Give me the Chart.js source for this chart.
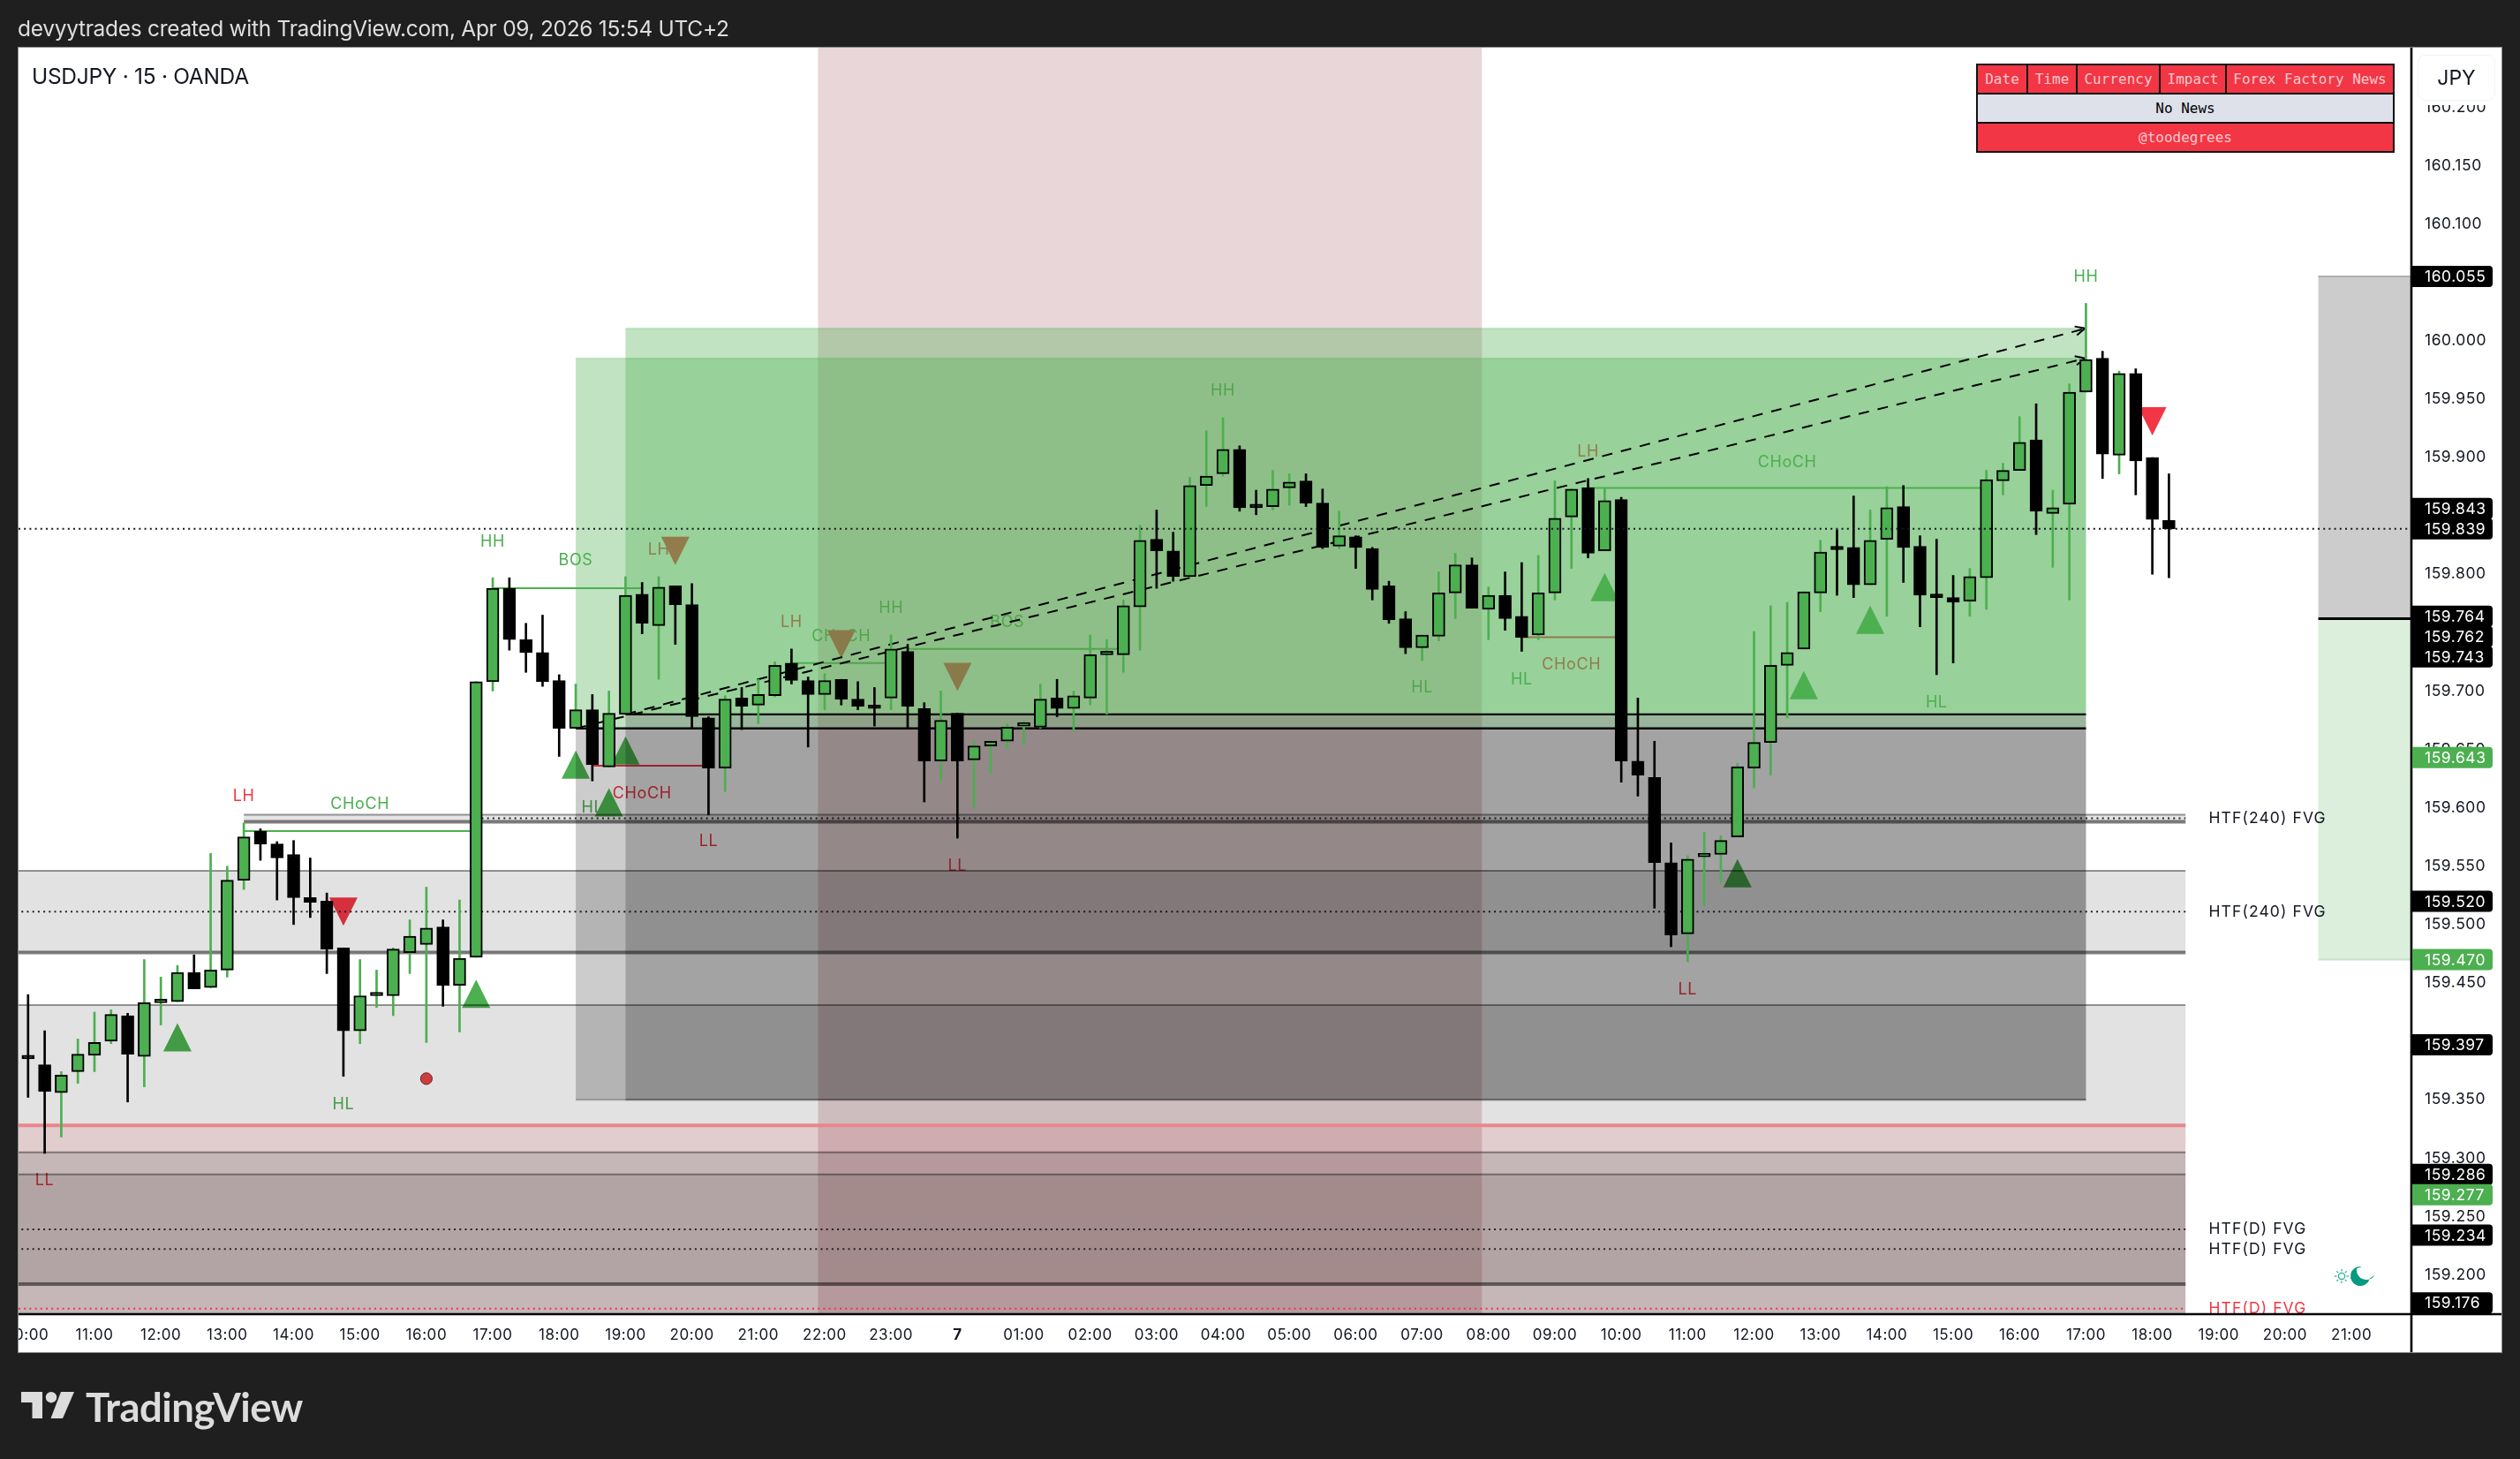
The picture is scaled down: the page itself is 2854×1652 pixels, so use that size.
<!DOCTYPE html>
<html>
<head>
<meta charset="utf-8">
<title>USDJPY 15 OANDA</title>
<script src="https://cdn.jsdelivr.net/npm/chart.js@4"></script>
<style>
html,body{margin:0;padding:0;background:#1f1f1f;width:2854px;height:1652px;overflow:hidden;font-family:Inter,Roboto,sans-serif}
canvas{position:absolute;left:0;top:0}
.abs{position:absolute;white-space:nowrap}
#head{left:20px;top:17px;font-size:24.5px;line-height:30px;color:#dedede;letter-spacing:-.3px}
#symbol{left:36px;top:71px;font-size:24.5px;line-height:30px;color:#131722;letter-spacing:-.3px}
#cur{left:2738px;top:62px;width:86px;height:50px;line-height:50px;background:#fff;border:1px solid #f0f3fa;border-radius:9px;box-shadow:0 5px 0 #fff;text-align:center;font-size:23px;color:#131722}
#news{left:2238px;top:72px;width:474px;height:101px;border-collapse:collapse;table-layout:fixed;font:16px/1 "DejaVu Sans Mono",monospace;text-align:center}
#news td{border:2px solid #111;padding:0;height:31px;background:#f23645;color:#fcc8cd}
#news td.plain{background:#dee1ea;color:#000}
#brand{left:97px;top:1565px;font:700 45.5px/56px Lato,sans-serif;color:#dcdcdc;letter-spacing:-.5px}
#logo{left:24px;top:1576px}
</style>
</head>
<body>
<canvas id="chart" width="2854" height="1652"></canvas>
<div class="abs" id="head">devyytrades created with TradingView.com, Apr 09, 2026 15:54 UTC+2</div>
<div class="abs" id="symbol">USDJPY · 15 · OANDA</div>
<div class="abs" id="cur">JPY</div>
<table class="abs" id="news">
<colgroup><col style="width:57px"><col style="width:56px"><col style="width:94px"><col style="width:75px"><col></colgroup>
<tr><td>Date</td><td>Time</td><td>Currency</td><td>Impact</td><td>Forex Factory News</td></tr>
<tr><td class="plain" colspan="5">No News</td></tr>
<tr><td colspan="5">@toodegrees</td></tr>
</table>
<svg class="abs" id="logo" width="62" height="31" viewBox="0 0 62 31" fill="#dcdcdc">
<path d="M0 0H24V30H12.5V12H0Z"/><circle cx="34" cy="6.2" r="6.2"/><path d="M45 0H60L47 30H33.5Z"/>
</svg>
<div class="abs" id="brand">TradingView</div>
<script>
// candles, one entry per 15 minute bar, bar 0 is 10:00
const barOpen=[159.386,159.380,159.356,159.374,159.388,159.400,159.422,159.387,159.433,159.434,
159.459,159.446,159.461,159.538,159.580,159.569,159.560,159.523,159.520,159.480,
159.409,159.439,159.439,159.476,159.483,159.498,159.448,159.472,159.708,159.788,
159.744,159.733,159.709,159.668,159.684,159.635,159.680,159.783,159.756,159.790,
159.774,159.677,159.634,159.694,159.688,159.696,159.724,159.709,159.697,159.710,
159.693,159.688,159.694,159.734,159.685,159.640,159.681,159.641,159.653,159.657,
159.670,159.669,159.694,159.685,159.694,159.731,159.731,159.772,159.830,159.820,
159.798,159.876,159.886,159.907,159.858,159.858,159.874,159.880,159.861,159.824,
159.832,159.822,159.790,159.762,159.737,159.747,159.784,159.808,159.770,159.782,
159.764,159.748,159.784,159.849,159.874,159.820,159.864,159.640,159.626,159.553,
159.492,159.558,159.560,159.575,159.634,159.656,159.722,159.736,159.784,159.823,
159.823,159.791,159.830,159.858,159.824,159.783,159.780,159.777,159.797,159.880,
159.889,159.915,159.852,159.860,159.956,159.985,159.902,159.972,159.900,159.846];
const barHigh=[159.440,159.409,159.374,159.402,159.425,159.427,159.424,159.470,159.455,159.465,
159.474,159.561,159.550,159.587,159.582,159.571,159.572,159.557,159.527,159.480,
159.470,159.461,159.480,159.504,159.532,159.504,159.521,159.708,159.797,159.797,
159.758,159.765,159.714,159.706,159.697,159.700,159.798,159.793,159.798,159.790,
159.792,159.678,159.696,159.703,159.710,159.725,159.736,159.712,159.715,159.710,
159.708,159.703,159.748,159.740,159.690,159.700,159.681,159.657,159.657,159.672,
159.674,159.706,159.710,159.700,159.748,159.744,159.778,159.842,159.855,159.836,
159.883,159.923,159.934,159.910,159.872,159.889,159.886,159.886,159.873,159.854,
159.833,159.823,159.794,159.768,159.748,159.802,159.818,159.814,159.789,159.802,
159.810,159.816,159.880,159.873,159.882,159.874,159.866,159.694,159.657,159.570,
159.559,159.579,159.576,159.638,159.751,159.773,159.776,159.785,159.829,159.838,
159.867,159.855,159.875,159.876,159.833,159.830,159.799,159.805,159.889,159.895,
159.935,159.946,159.872,159.963,160.032,159.991,159.974,159.976,159.900,159.886];
const barLow=[159.352,159.304,159.318,159.364,159.374,159.398,159.348,159.361,159.414,159.434,
159.445,159.446,159.455,159.530,159.555,159.521,159.500,159.506,159.458,159.370,
159.398,159.429,159.422,159.458,159.399,159.430,159.408,159.472,159.700,159.735,
159.716,159.704,159.644,159.668,159.623,159.635,159.680,159.749,159.710,159.740,
159.668,159.594,159.614,159.667,159.672,159.695,159.706,159.652,159.684,159.688,
159.684,159.670,159.684,159.668,159.605,159.624,159.574,159.600,159.629,159.651,
159.654,159.668,159.678,159.666,159.688,159.680,159.716,159.735,159.788,159.794,
159.798,159.858,159.884,159.854,159.851,159.855,159.859,159.858,159.822,159.822,
159.805,159.778,159.758,159.732,159.726,159.743,159.762,159.771,159.744,159.752,
159.734,159.744,159.778,159.805,159.814,159.820,159.622,159.610,159.514,159.481,
159.468,159.516,159.536,159.575,159.617,159.628,159.677,159.736,159.768,159.782,
159.780,159.791,159.764,159.793,159.755,159.714,159.724,159.764,159.770,159.868,
159.889,159.834,159.806,159.778,159.956,159.882,159.886,159.868,159.800,159.797];
const barClose=[159.385,159.357,159.371,159.389,159.399,159.423,159.389,159.433,159.435,159.459,
159.445,159.461,159.538,159.575,159.569,159.557,159.523,159.519,159.479,159.409,
159.439,159.440,159.479,159.490,159.497,159.448,159.471,159.708,159.788,159.744,
159.733,159.708,159.668,159.684,159.637,159.681,159.782,159.758,159.789,159.774,
159.678,159.634,159.693,159.687,159.697,159.722,159.709,159.697,159.709,159.693,
159.687,159.685,159.736,159.687,159.640,159.675,159.640,159.653,159.657,159.669,
159.672,159.693,159.685,159.696,159.731,159.733,159.773,159.829,159.820,159.798,
159.876,159.884,159.907,159.857,159.857,159.873,159.879,159.861,159.823,159.833,
159.823,159.787,159.761,159.737,159.748,159.784,159.808,159.771,159.782,159.762,
159.746,159.784,159.848,159.873,159.818,159.863,159.640,159.628,159.553,159.491,
159.556,159.559,159.572,159.635,159.656,159.722,159.733,159.785,159.819,159.821,
159.791,159.829,159.857,159.823,159.782,159.780,159.776,159.798,159.881,159.889,
159.913,159.854,159.857,159.956,159.984,159.903,159.972,159.897,159.847,159.839];

// axis ticks
const timeLabels=["10:00","11:00","12:00","13:00","14:00","15:00","16:00","17:00","18:00","19:00","20:00","21:00","22:00","23:00","7",
"01:00","02:00","03:00","04:00","05:00","06:00","07:00","08:00","09:00","10:00","11:00","12:00","13:00","14:00","15:00","16:00","17:00","18:00","19:00","20:00","21:00"];
const priceTicks=[159.2,159.25,159.3,159.35,159.4,159.45,159.5,159.55,159.6,159.65,159.7,159.75,159.8,159.85,159.9,159.95,160,160.05,160.1,160.15,160.2];

// price tags on the axis, in order from top to bottom
const tagPrice=[160.055,159.843,159.839,159.764,159.762,159.743,159.643,159.520,159.470,159.397,159.286,159.277,159.234,159.176];
const tagGreen=[0,0,0,0,0,0,1,0,1,0,0,1,0,0];
const lastPrice=159.839;

// structure labels
const labelText=["LH","CHoCH","HL","LL","BOS","LH","LH","CHoCH","HH","BOS","CHoCH","HL","LL","LL","HH","LH","HL","HL","CHoCH","CHoCH","HL","LL","HH","HH"];
const labelBar=[13,20,19,1,33,38,46,49,52,59,37,34,41,56,72,94,84,90,93,106,115,100,28,124];
const labelPrice=[159.610,159.603,159.3455,159.281,159.8115,159.821,159.759,159.747,159.771,159.759,159.612,159.600,159.571,159.550,159.957,159.905,159.703,159.710,159.7225,159.896,159.690,159.444,159.828,160.055];
const labelBull=[0,1,1,0,1,0,0,1,1,1,0,1,0,0,1,0,1,1,0,1,1,0,1,1];

// signal triangles
const triBar=[9,19,27,35,33,36,39,49,56,95,107,111,103,128];
const triPrice=[159.4035,159.511,159.4406,159.6046,159.637,159.649,159.820,159.740,159.712,159.789,159.705,159.761,159.544,159.931];
const triUp=[1,0,1,1,1,1,0,0,0,1,1,1,1,0];

// break of structure lines
const breakFrom=[13,28,34,46,53,90,94];
const breakTo=[27,37,41,52,66,96,118];
const breakPrice=[159.580,159.788,159.636,159.724,159.736,159.746,159.874];
const breakBull=[1,1,0,1,1,0,1];

// position boxes
const boxFrom=[33,36];
const boxTo=[124,124];
const profitTop=[159.985,160.0106];
const entryPrice=[159.668,159.680];
const stopPrice=[159.350,159.350];

// session column
const sessionFrom=47.6;
const sessionTo=87.6;

// fair value gaps
const gapEnd=130;
const bandHigh=[159.594,159.546,159.431,159.328,159.305,159.286,159.192];
const bandLow=[159.588,159.476,159.328,159.305,159.286,159.192,159.1];
const bandFrom=[13,-1,-1,-1,-1,-1,-1];
const gapLinePrice=[159.594,159.588,159.546,159.476,159.431,159.305,159.286,159.192];
const gapLineFrom=[13,13,-1,-1,-1,-1,-1,-1];
const gapLineThick=[0,1,0,1,0,0,0,1];
const pinkLinePrice=159.328;
const dotPrice=[159.591,159.511,159.239,159.222];
const dotFrom=[27,-0.4,-1,-0.4];
const redDotPrice=159.171;
const gapText=["HTF(240) FVG","HTF(240) FVG","HTF(D) FVG","HTF(D) FVG","HTF(D) FVG"];
const gapTextPrice=[159.591,159.511,159.239,159.222,159.171];
const gapTextRed=[0,0,0,0,1];

// projection at the right edge
const sideFrom=138;
const sideTop=[160.055,159.762];
const sideBottom=[159.762,159.470];

const alertBar=24;
const alertPrice=159.368;

const GREEN="#4caf50", RED="#f23645";
const bandFill=["rgba(0,0,0,.1)","rgba(0,0,0,.114)","rgba(0,0,0,.114)","rgba(115,20,25,.21)","rgba(68,20,23,.31)","rgba(47,9,9,.37)","rgba(68,20,23,.31)"];

function hLine(ctx,x1,x2,y,w,color,dash){
    ctx.beginPath(); ctx.setLineDash(dash||[]); ctx.lineWidth=w; ctx.strokeStyle=color;
    ctx.moveTo(x1,y); ctx.lineTo(x2,y); ctx.stroke(); ctx.setLineDash([]);
}

const overlay={
    id:"overlay",
    beforeDraw(c){
        const ctx=c.ctx;
        ctx.fillStyle="#1f1f1f"; ctx.fillRect(0,0,c.width,c.height);
        ctx.fillStyle="#fff"; ctx.fillRect(21,54,2812,1477);
        // stays set for the tick labels too
        ctx.letterSpacing=".55px";
    },
    beforeDatasetsDraw(c){
        const ctx=c.ctx, a=c.chartArea, X=c.scales.x, Y=c.scales.y;
        const px=v=>X.getPixelForValue(v), py=v=>Y.getPixelForValue(v);
        const end=px(gapEnd), barW=18.795;
        ctx.save();
        ctx.beginPath(); ctx.rect(a.left,a.top,a.right-a.left,a.bottom-a.top); ctx.clip();

        // labels, triangles and structure sit under the translucent boxes
        ctx.font='18px Inter'; ctx.letterSpacing=".6px"; ctx.textAlign="center"; ctx.textBaseline="middle";
        labelText.forEach((t,i)=>{ ctx.fillStyle=labelBull[i]?GREEN:RED; ctx.fillText(t,px(labelBar[i]),py(labelPrice[i])); });
        triBar.forEach((b,i)=>{
            const x=px(b), y=py(triPrice[i]), d=triUp[i]?1:-1;
            ctx.fillStyle=triUp[i]?GREEN:RED;
            ctx.beginPath(); ctx.moveTo(x,y-16*d); ctx.lineTo(x+16,y+16*d); ctx.lineTo(x-16,y+16*d); ctx.closePath(); ctx.fill();
        });
        breakFrom.forEach((b,i)=>hLine(ctx,px(b),px(breakTo[i]),py(breakPrice[i]),2,breakBull[i]?GREEN:RED));
        ctx.beginPath(); ctx.arc(px(alertBar),py(alertPrice),6.6,0,Math.PI*2);
        ctx.fillStyle="#e84545"; ctx.fill(); ctx.lineWidth=1; ctx.strokeStyle="#7a2a2a"; ctx.stroke();

        // session column
        ctx.fillStyle="rgba(140,50,60,.2)";
        ctx.fillRect(px(sessionFrom),a.top,px(sessionTo)-px(sessionFrom),a.bottom-a.top);

        // gap bands
        bandHigh.forEach((h,i)=>{
            const x1=bandFrom[i]<0?a.left:px(bandFrom[i]);
            ctx.fillStyle=bandFill[i];
            ctx.fillRect(x1,py(h),end-x1,py(bandLow[i])-py(h));
        });
        gapLinePrice.forEach((p,i)=>{
            const x1=gapLineFrom[i]<0?a.left:px(gapLineFrom[i]);
            hLine(ctx,x1,end,py(p),gapLineThick[i]?4:2,gapLineThick[i]?"rgba(0,0,0,.5)":"rgba(0,0,0,.4)");
        });
        hLine(ctx,a.left,end,py(pinkLinePrice),4,"#ea868e");
        dotPrice.forEach((p,i)=>{
            const x1=dotFrom[i]<0?px(-0.4):px(dotFrom[i]);
            hLine(ctx,x1,end,py(p),2,"#222",[2,4.2]);
        });
        hLine(ctx,a.left,end,py(redDotPrice),2,RED,[2,4.2]);

        // position boxes
        boxFrom.forEach((b,i)=>{
            const x1=px(b), x2=px(boxTo[i]);
            ctx.fillStyle="rgba(76,175,80,.35)";
            ctx.fillRect(x1,py(profitTop[i]),x2-x1,py(entryPrice[i])-py(profitTop[i]));
            ctx.fillStyle="rgba(0,0,0,.2)";
            ctx.fillRect(x1,py(entryPrice[i]),x2-x1,py(stopPrice[i])-py(entryPrice[i]));
            hLine(ctx,x1,x2,py(stopPrice[i]),2,"rgba(0,0,0,.25)");
            hLine(ctx,x1,x2,py(profitTop[i]),2,"rgba(76,175,80,.2)");
        });
        boxFrom.forEach((b,i)=>hLine(ctx,px(b),px(boxTo[i]),py(entryPrice[i]),2.4,"#000"));

        // projected side boxes
        const sx=px(sideFrom);
        ctx.fillStyle="#cccccc"; ctx.fillRect(sx,py(sideTop[0]),a.right-sx,py(sideBottom[0])-py(sideTop[0]));
        ctx.fillStyle="#dceedc"; ctx.fillRect(sx,py(sideTop[1]),a.right-sx,py(sideBottom[1])-py(sideTop[1]));
        hLine(ctx,sx,a.right,py(sideTop[0]),2,"#b0b0b0");
        hLine(ctx,sx,a.right,py(sideTop[1]),3,"#000");
        hLine(ctx,sx,a.right,py(sideBottom[1]),2,"#c6e4c7");

        // gap names
        ctx.font='17.5px Inter'; ctx.letterSpacing="1.1px"; ctx.textAlign="left"; ctx.textBaseline="middle";
        gapText.forEach((t,i)=>{ ctx.fillStyle=gapTextRed[i]?RED:"#131722"; ctx.fillText(t,end+barW*1.4,py(gapTextPrice[i])); });

        // box diagonals
        boxFrom.forEach((b,i)=>{
            const x1=px(b), y1=py(entryPrice[i]), x2=px(boxTo[i]), y2=py(profitTop[i]);
            ctx.beginPath(); ctx.setLineDash([12,10]); ctx.lineWidth=2; ctx.strokeStyle="#000";
            ctx.moveTo(x1,y1); ctx.lineTo(x2,y2); ctx.stroke(); ctx.setLineDash([]);
            const ang=Math.atan2(y2-y1,x2-x1);
            [2.7,-2.7].forEach(t=>{
                ctx.beginPath(); ctx.moveTo(x2-1,y2);
                ctx.lineTo(x2-1+Math.cos(ang+t)*12,y2+Math.sin(ang+t)*12); ctx.stroke();
            });
        });
        ctx.restore();
    },
    afterDatasetsDraw(c){
        const ctx=c.ctx, a=c.chartArea, Y=c.scales.y;
        hLine(ctx,a.left,a.right,Y.getPixelForValue(lastPrice),2,"#131722",[2,4.2]);
    },
    afterDraw(c){
        const ctx=c.ctx, a=c.chartArea, Y=c.scales.y;
        ctx.save();
        // frame: covers the tick label that runs past the left edge
        ctx.fillStyle="#1f1f1f"; ctx.fillRect(0,a.bottom,20,60);
        hLine(ctx,a.left,2833,a.bottom,2.6,"#000");
        ctx.beginPath(); ctx.lineWidth=2.6; ctx.strokeStyle="#000"; ctx.moveTo(a.right,a.top); ctx.lineTo(a.right,1531); ctx.stroke();
        ctx.strokeStyle="#8a8a8a"; ctx.lineWidth=1; ctx.strokeRect(20.5,53.5,2813,1478);

        // price tags, pushed apart when they would overlap, the last price stays put
        const h=24, gap=23, ys=tagPrice.map(p=>Y.getPixelForValue(p));
        const fixed=tagPrice.indexOf(lastPrice);
        for(let i=1;i<ys.length;i++){ if(i!==fixed && ys[i]<ys[i-1]+gap) ys[i]=ys[i-1]+gap; }
        if(ys[fixed-1]>ys[fixed]-gap) ys[fixed-1]=ys[fixed]-gap;
        ctx.font='17.5px Inter'; ctx.letterSpacing=".55px"; ctx.textAlign="left"; ctx.textBaseline="middle";
        tagPrice.forEach((p,i)=>{
            ctx.fillStyle=tagGreen[i]?GREEN:"#000";
            ctx.beginPath(); ctx.roundRect(a.right+1,ys[i]-h/2,91,h,[0,4,4,0]); ctx.fill();
            ctx.fillStyle="#fff"; ctx.fillText(p.toFixed(3),2746,ys[i]+1);
        });

        // sun and moon badge
        const sx=2652, sy=1445;
        ctx.strokeStyle="#22ab94"; ctx.lineWidth=1.2;
        ctx.beginPath(); ctx.arc(sx,sy,3.6,0,Math.PI*2); ctx.stroke();
        for(let k=0;k<8;k++){
            const t=k*Math.PI/4;
            ctx.beginPath(); ctx.moveTo(sx+Math.cos(t)*5.4,sy+Math.sin(t)*5.4); ctx.lineTo(sx+Math.cos(t)*8,sy+Math.sin(t)*8); ctx.stroke();
        }
        ctx.fillStyle="#089981";
        ctx.beginPath(); ctx.arc(2673,1445,11,0.25,Math.PI*1.55); ctx.arc(2680,1438,11,Math.PI*1.05,0.55,true); ctx.closePath(); ctx.fill();
        ctx.restore();
    }
};

const barIds=barOpen.map((v,i)=>i);
new Chart(document.getElementById("chart"),{
    type:"bar",
    data:{datasets:[
        {   // bodies, first dataset is painted last
            data:barIds.map(i=>({x:i,y:[barOpen[i],barClose[i]]})),
            backgroundColor:barIds.map(i=>barClose[i]>=barOpen[i]?GREEN:"#000"),
            borderColor:"#000", borderWidth:2, borderSkipped:false,
            barThickness:14, minBarLength:4, grouped:false
        },
        {   // wicks
            data:barIds.map(i=>({x:i,y:[barLow[i],barHigh[i]]})),
            backgroundColor:barIds.map(i=>barClose[i]>=barOpen[i]?GREEN:"#000"),
            barThickness:2, grouped:false
        }
    ]},
    options:{
        responsive:false, animation:false, devicePixelRatio:1,
        layout:{autoPadding:false,padding:{left:21,top:54,right:21,bottom:121}},
        plugins:{legend:{display:false},tooltip:{enabled:false}},
        scales:{
            x:{
                type:"linear", min:-0.575, max:143.61, offset:false,
                grid:{display:false,drawTicks:false}, border:{display:false},
                // the first label hangs off the edge, keep the scale from making room for it
                afterFit:s=>{s.height=43; s.paddingLeft=0; s.paddingRight=0},
                afterBuildTicks:s=>{s.ticks=timeLabels.map((t,i)=>({value:i*4}))},
                ticks:{
                    autoSkip:false, maxRotation:0, padding:14, color:"#131722",
                    font:c=>({family:"Inter",size:17,weight:c.tick&&c.tick.value===56?"700":"400"}),
                    callback:v=>timeLabels[Math.round(v/4)]
                }
            },
            y:{
                position:"right", min:159.1663, max:160.251,
                grid:{display:false,drawTicks:false}, border:{display:false},
                afterFit:s=>{s.width=102; s.paddingTop=0; s.paddingBottom=0},
                afterBuildTicks:s=>{s.ticks=priceTicks.map(v=>({value:v}))},
                ticks:{
                    padding:15, crossAlign:"near", color:"#131722",
                    font:{family:"Inter",size:17.5},
                    callback:v=>v.toFixed(3)
                }
            }
        }
    },
    plugins:[overlay]
});
</script>
</body>
</html>
